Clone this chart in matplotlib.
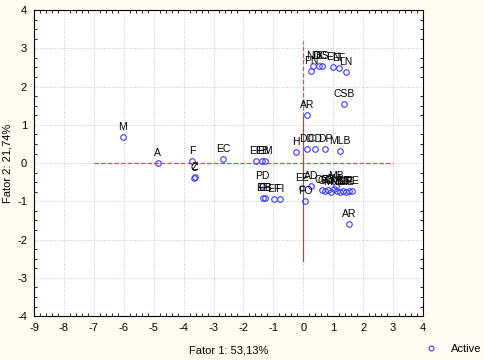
import matplotlib
matplotlib.use('Agg')
import matplotlib.pyplot as plt
from matplotlib.ticker import MultipleLocator
from matplotlib.lines import Line2D

plt.rcParams['font.family'] = ['Liberation Sans', 'DejaVu Sans']
plt.rcParams['axes.unicode_minus'] = False

# pontos ativos (Fator 1, Fator 2) e rótulos
labels = ['M', 'A', 'F', 'C', 'Z', 'EC', 'EE', 'EB', 'EM',
          'PD', 'EE', 'EB', 'EF', 'FI',
          'H', 'DD', 'CD', 'DP', 'MLB', 'AR', 'CSB',
          'PN', 'ND', 'DC', 'BS', 'EN', 'EF', 'LN',
          'EE', 'AD', 'FO',
          'CE', 'GC', 'CB', 'MP', 'CM', 'ML', 'LE', 'BE', 'ME', 'CL', 'PE', 'MB',
          'AR']
fator1 = [-6.03, -4.86, -3.72, -3.65, -3.63, -2.68, -1.58, -1.38, -1.28,
          -1.38, -1.35, -1.28, -0.98, -0.78,
          -0.24, 0.12, 0.39, 0.73, 1.23, 0.12, 1.36,
          0.26, 0.33, 0.53, 0.63, 0.99, 1.19, 1.43,
          -0.04, 0.26, 0.06,
          0.62, 0.73, 0.83, 0.93, 1.03, 1.13, 1.23, 1.33, 1.43, 1.53, 1.63, 1.09,
          1.53]
fator2 = [0.68, 0.0, 0.05, -0.39, -0.37, 0.1, 0.05, 0.05, 0.05,
          -0.6, -0.92, -0.92, -0.94, -0.94,
          0.29, 0.37, 0.37, 0.36, 0.31, 1.25, 1.54,
          2.41, 2.54, 2.54, 2.54, 2.51, 2.48, 2.38,
          -0.65, -0.6, -0.99,
          -0.71, -0.73, -0.71, -0.76, -0.68, -0.73, -0.76, -0.73, -0.76, -0.73, -0.73, -0.6,
          -1.6]

bg = '#fffbf0'
fig = plt.figure(figsize=(4.84, 3.6), dpi=100, facecolor=bg)
ax = fig.add_axes([0.0702, 0.122, 0.8037, 0.850])

ax.grid(True, color='#c8c8c8', linestyle=':', linewidth=0.7)
ax.set_axisbelow(True)

# linhas de referência
ax.plot([-7, 3], [0, 0], color='#e05050', linestyle='--', linewidth=0.9)
ax.plot([0, 0], [1.2, 3.2], color='#e05050', linestyle='--', linewidth=0.9)
ax.plot([0, 0], [-2.55, 1.2], color='#e03030', linestyle='-', linewidth=0.9)

ax.plot(fator1, fator2, linestyle='none', marker='o', markersize=4,
        markerfacecolor='none', markeredgecolor='#3a3aff', markeredgewidth=0.8)
for lab, x, y in zip(labels, fator1, fator2):
    ax.annotate(lab, (x, y), xytext=(0, 3.5), textcoords='offset points',
                ha='center', va='bottom', fontsize=7.5, color='black')

ax.set_xlim(-9, 4)
ax.set_ylim(-4, 4)
ax.xaxis.set_major_locator(MultipleLocator(1))
ax.yaxis.set_major_locator(MultipleLocator(1))
ax.xaxis.set_minor_locator(MultipleLocator(0.2))
ax.yaxis.set_minor_locator(MultipleLocator(0.25))
ax.tick_params(which='both', direction='in', top=True, right=True, labelsize=8)
ax.tick_params(which='major', length=0, pad=5)
ax.tick_params(which='minor', length=2, width=0.6)
for s in ax.spines.values():
    s.set_linewidth(0.8)

ax.set_xlabel('Fator 1: 53,13%', fontsize=8)
ax.set_ylabel('Fator 2: 21,74%', fontsize=8)
ax.xaxis.set_label_coords(0.5, -0.095)
ax.yaxis.set_label_coords(-0.054, 0.5)

h = Line2D([], [], linestyle='none', marker='o', markersize=3.5,
           markerfacecolor='none', markeredgecolor='#3a3aff', markeredgewidth=0.8)
fig.legend([h], ['Active'], loc='lower right', bbox_to_anchor=(1.015, -0.01),
           frameon=False, fontsize=8, handletextpad=1.0, handlelength=1.5)

plt.savefig('out.png', dpi=100, facecolor=bg)
